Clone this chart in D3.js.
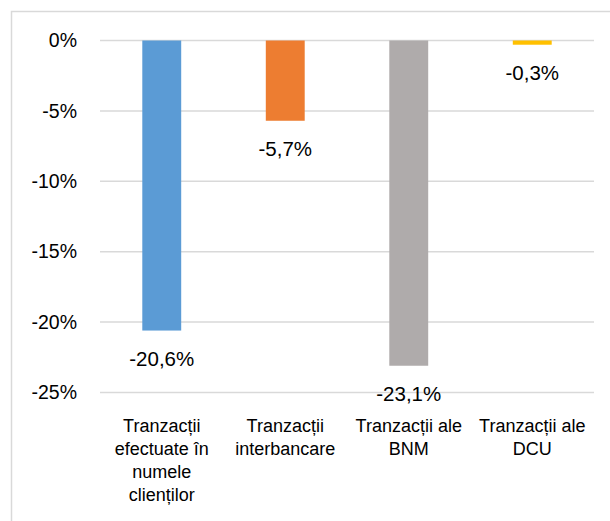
<!DOCTYPE html>
<html>
<head>
<meta charset="utf-8">
<script src="https://cdn.jsdelivr.net/npm/d3@7"></script>
<style>
  body { margin: 0; background: #fff; }
  svg text { font-family: "Liberation Sans", "DejaVu Sans", sans-serif; fill: #000; }
</style>
</head>
<body>
<div id="chart"></div>
<script>
    // chart values
    var categories = [
        ['Tranzacții', 'efectuate în', 'numele', 'clienților'],
        ['Tranzacții', 'interbancare'],
        ['Tranzacții ale', 'BNM'],
        ['Tranzacții ale', 'DCU']
    ];
    var values = [-20.6, -5.7, -23.1, -0.3];
    var valueLabels = ['-20,6%', '-5,7%', '-23,1%', '-0,3%'];
    var colors = ['#5b9bd5', '#ed7d31', '#afabab', '#ffc000'];
    var yTicks = [0, -5, -10, -15, -20, -25];

    var width = 610, height = 521;
    var margin = { top: 40.5, left: 100, right: 16, bottom: 128.5 };

    var svg = d3.select('#chart')
        .append('svg')
        .attr('width', width)
        .attr('height', height);

    // outer frame
    svg.append('rect')
        .attr('x', 11.5)
        .attr('y', 11.5)
        .attr('width', width + 10)
        .attr('height', height + 10)
        .attr('fill', 'none')
        .attr('stroke', '#d9d9d9')
        .attr('stroke-width', 1.5);

    var x = d3.scaleBand()
        .domain(d3.range(categories.length))
        .range([margin.left, width - margin.right])
        .paddingInner(0.685)
        .paddingOuter(0.3425);

    var y = d3.scaleLinear()
        .domain([0, -25])
        .range([margin.top, height - margin.bottom]);

    // gridlines
    svg.append('g')
        .selectAll('line')
        .data(yTicks)
        .enter()
        .append('line')
        .attr('x1', margin.left)
        .attr('x2', width - margin.right)
        .attr('y1', function (d) { return y(d); })
        .attr('y2', function (d) { return y(d); })
        .attr('stroke', '#d9d9d9')
        .attr('stroke-width', 1.5);

    // y axis labels
    var yAxis = d3.axisLeft(y)
        .tickValues(yTicks)
        .tickSize(0)
        .tickPadding(23)
        .tickFormat(function (d) { return d + '%'; });

    var gy = svg.append('g')
        .attr('transform', 'translate(' + margin.left + ',0)')
        .call(yAxis);
    gy.select('.domain').remove();
    gy.selectAll('text')
        .attr('font-size', '19.5px')
        .attr('font-family', '"Liberation Sans", sans-serif');

    // bars
    svg.selectAll('.bar')
        .data(values)
        .enter()
        .append('rect')
        .attr('class', 'bar')
        .attr('x', function (d, i) { return x(i); })
        .attr('y', y(0))
        .attr('width', x.bandwidth())
        .attr('height', function (d) { return y(d) - y(0); })
        .attr('fill', function (d, i) { return colors[i]; });

    // value labels
    svg.selectAll('.val')
        .data(values)
        .enter()
        .append('text')
        .attr('class', 'val')
        .attr('x', function (d, i) { return x(i) + x.bandwidth() / 2; })
        .attr('y', function (d) { return y(d) + 35; })
        .attr('text-anchor', 'middle')
        .attr('font-size', '20.5px')
        .text(function (d, i) { return valueLabels[i]; });

    // category labels
    var cats = svg.selectAll('.cat')
        .data(categories)
        .enter()
        .append('text')
        .attr('class', 'cat')
        .attr('text-anchor', 'middle')
        .attr('font-size', '18px')
        .attr('transform', function (d, i) {
            return 'translate(' + (x(i) + x.bandwidth() / 2) + ',' + (y(-25) + 39) + ')';
        });

    cats.selectAll('tspan')
        .data(function (d) { return d; })
        .enter()
        .append('tspan')
        .attr('x', 0)
        .attr('y', function (d, i) { return i * 23; })
        .text(function (d) { return d; });
</script>
</body>
</html>
